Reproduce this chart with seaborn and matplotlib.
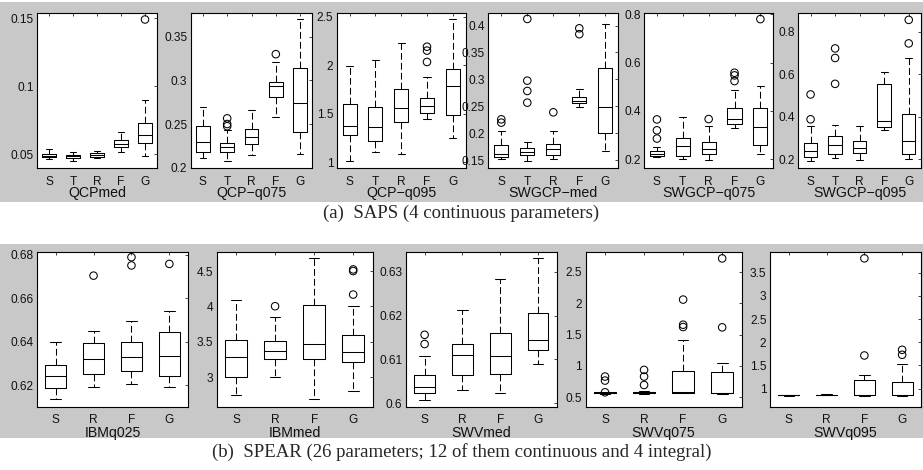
import numpy as np
import pandas as pd
import matplotlib
matplotlib.use('Agg')
import matplotlib.pyplot as plt
from matplotlib.patches import Rectangle
from matplotlib.ticker import FuncFormatter
import seaborn as sns

sns.set_style('white')
plt.rcParams['font.family'] = ['Liberation Sans', 'DejaVu Sans']

# ---------------- data ----------------
cats_a = ['S', 'T', 'R', 'F', 'G']
cats_b = ['S', 'R', 'F', 'G']

# each box: [lower whisker, q1, median, q3, upper whisker]
QCPmed_box = [[0.0465, 0.0476, 0.0487, 0.0503, 0.0534],
              [0.0450, 0.0470, 0.0485, 0.0493, 0.0515],
              [0.0468, 0.0480, 0.0493, 0.0505, 0.0524],
              [0.0517, 0.0554, 0.0573, 0.0602, 0.0659],
              [0.0485, 0.0585, 0.0644, 0.0729, 0.0900]]
QCPmed_out = [[], [], [], [], [0.149]]

QCPq075_box = [[0.2107, 0.2183, 0.2298, 0.2477, 0.2690],
               [0.2076, 0.2183, 0.2240, 0.2286, 0.2430],
               [0.2141, 0.2271, 0.2355, 0.2439, 0.2656],
               [0.2584, 0.2813, 0.2935, 0.2977, 0.3206],
               [0.2153, 0.2408, 0.2737, 0.3141, 0.3702]]
QCPq075_out = [[], [0.2565, 0.2500, 0.2475], [], [0.330], []]

QCPq095_box = [[1.014, 1.285, 1.374, 1.604, 1.992],
               [1.106, 1.216, 1.360, 1.566, 2.054],
               [1.089, 1.412, 1.556, 1.758, 2.225],
               [1.446, 1.504, 1.580, 1.666, 1.882],
               [1.250, 1.487, 1.782, 1.964, 2.476]]
QCPq095_out = [[], [], [], [2.19, 2.15, 2.033], []]

SWGCPmed_box = [[0.1512, 0.1562, 0.1612, 0.1785, 0.2040],
                [0.1488, 0.1593, 0.1655, 0.1717, 0.1841],
                [0.1519, 0.1593, 0.1705, 0.1798, 0.2046],
                [0.2492, 0.2555, 0.2598, 0.2679, 0.2815],
                [0.1674, 0.2009, 0.2480, 0.3218, 0.4031]]
SWGCPmed_out = [[0.2257, 0.2195], [0.4124, 0.2976, 0.2784, 0.2567], [0.2387],
                [0.395, 0.384], []]

SWGCPq075_box = [[0.2083, 0.2138, 0.2220, 0.2344, 0.2523],
                 [0.2000, 0.2138, 0.2564, 0.2867, 0.3734],
                 [0.1972, 0.2220, 0.2427, 0.2730, 0.3376],
                 [0.3308, 0.3459, 0.3652, 0.4106, 0.4863],
                 [0.2220, 0.2592, 0.3349, 0.4106, 0.5028]]
SWGCPq075_out = [[0.365, 0.320, 0.286], [], [0.3666], [0.558, 0.547, 0.5235], [0.7795]]

SWGCPq095_box = [[0.1938, 0.2125, 0.2390, 0.2780, 0.3560],
                 [0.2078, 0.2234, 0.2701, 0.3107, 0.3606],
                 [0.1984, 0.2312, 0.2514, 0.2889, 0.3560],
                 [0.3372, 0.3528, 0.3808, 0.5554, 0.6130],
                 [0.2000, 0.2249, 0.2857, 0.4151, 0.6770]]
SWGCPq095_out = [[0.5055, 0.3886], [0.722, 0.677, 0.5554], [], [], [0.8563, 0.7456]]

IBMq025_box = [[0.6135, 0.6186, 0.6243, 0.6290, 0.6398],
               [0.6191, 0.6253, 0.6318, 0.6392, 0.6449],
               [0.6206, 0.6263, 0.6330, 0.6398, 0.6494],
               [0.6189, 0.6240, 0.6333, 0.6444, 0.6540]]
IBMq025_out = [[], [0.6704], [0.6789, 0.6751], [0.6758]]

IBMmed_box = [[2.749, 3.009, 3.284, 3.520, 4.097],
              [3.000, 3.260, 3.364, 3.511, 3.851],
              [2.688, 3.255, 3.473, 4.026, 4.679],
              [2.806, 3.218, 3.360, 3.591, 4.003]]
IBMmed_out = [[], [4.003], [], [4.523, 4.500, 4.168]]

SWVmed_box = [[0.6008, 0.6023, 0.6038, 0.6065, 0.6108],
              [0.6029, 0.6065, 0.6111, 0.6135, 0.6212],
              [0.6023, 0.6066, 0.6108, 0.6160, 0.6284],
              [0.6090, 0.6122, 0.6144, 0.6206, 0.6331]]
SWVmed_out = [[0.6156, 0.6135], [], [], []]

SWVq075_box = [[0.560, 0.566, 0.575, 0.585, 0.590],
               [0.560, 0.568, 0.578, 0.588, 0.600],
               [0.564, 0.575, 0.578, 0.927, 1.417],
               [0.553, 0.564, 0.570, 0.911, 1.055]]
SWVq075_out = [[0.831, 0.767, 0.580], [0.937, 0.831, 0.697], [2.057, 1.657, 1.620],
               [2.713, 1.615]]

SWVq095_box = [[0.850, 0.852, 0.855, 0.858, 0.862],
               [0.862, 0.865, 0.868, 0.871, 0.874],
               [0.848, 0.855, 0.863, 1.188, 1.296],
               [0.848, 0.855, 0.860, 1.137, 1.530]]
SWVq095_out = [[], [], [3.811, 1.715], [1.838, 1.730]]

names_a = ['QCPmed', 'QCP\u2212q075', 'QCP\u2212q095', 'SWGCP\u2212med', 'SWGCP\u2212q075',
           'SWGCP\u2212q095']
names_b = ['IBMq025', 'IBMmed', 'SWVmed', 'SWVq075', 'SWVq095']

yticks_a = [[0.05, 0.1, 0.15], [0.2, 0.25, 0.3, 0.35], [1, 1.5, 2, 2.5],
            [0.15, 0.2, 0.25, 0.3, 0.35, 0.4], [0.2, 0.4, 0.6, 0.8], [0.2, 0.4, 0.6, 0.8]]
yticks_b = [[0.62, 0.64, 0.66, 0.68], [3, 3.5, 4, 4.5], [0.6, 0.61, 0.62, 0.63],
            [0.5, 1, 1.5, 2, 2.5], [1, 1.5, 2, 2.5, 3, 3.5]]

caption_a = '(a)  SAPS (4 continuous parameters)'
caption_b = '(b)  SPEAR (26 parameters; 12 of them continuous and 4 integral)'

# ---------------- layout ----------------
W, H = 923, 470
fig = plt.figure(figsize=(W / 100, H / 100), dpi=100)
GRAY = '#c8c8c8'

def band(y0, y1):
    fig.add_artist(Rectangle((0, 1 - y1 / H), 1, (y1 - y0) / H,
                             transform=fig.transFigure, facecolor=GRAY,
                             edgecolor='none', zorder=-10))

band(2, 202)
band(244, 438)

def px_axes(l, r, t, b):
    return fig.add_axes([l / W, 1 - b / H, (r - l) / W, (b - t) / H])

fmt = FuncFormatter(lambda v, p: f'{v:g}')

def draw_panel(ax, cats, box, out, name, ylim, yticks, label_y, xpad):
    df = pd.DataFrame({'cat': np.repeat(cats, 5), 'val': np.concatenate(box)})
    sns.boxplot(data=df, x='cat', y='val', order=cats, whis=(0, 100), width=0.55,
                fill=False, color='black', linewidth=0.75, showfliers=False,
                whiskerprops={'linestyle': (0, (6.5, 3))}, ax=ax)
    ocat = [c for c, vals in zip(cats, out) for _ in vals]
    oval = [v for vals in out for v in vals]
    n0 = len(ax.collections)
    sns.stripplot(x=ocat, y=oval, order=cats, jitter=False, size=5.4, color='black',
                  edgecolor='black', linewidth=0.75, ax=ax)
    for c in ax.collections[n0:]:
        c.set_facecolor('none')
        c.set_edgecolor('black')
    ax.set_xlim(-0.5, len(cats) - 0.5)
    ax.set_ylim(*ylim)
    ax.set_yticks(yticks)
    ax.yaxis.set_major_formatter(fmt)
    ax.set_ylabel('')
    ax.set_xlabel(name, fontsize=10.2, color='#111111')
    ax.xaxis.set_label_coords(0.5, label_y)
    ax.tick_params(axis='both', direction='in', length=2.5, width=0.6,
                   top=True, right=True, labelsize=8.6, labelcolor='#111111')
    ax.tick_params(axis='x', pad=xpad)
    ax.tick_params(axis='y', pad=2.5)
    for s in ax.spines.values():
        s.set_visible(True)
        s.set_linewidth(0.8)
        s.set_color('black')
    ax.set_facecolor('white')

pos_a = [(37, 157), (190.7, 312.3), (336.7, 465.7), (488.3, 618.3), (644, 773.3), (798.3, 921)]
ylims_a = [(0.040, 0.154), (0.2, 0.3775), (0.945, 2.54), (0.1357, 0.424),
           (0.1656, 0.806), (0.161, 0.89)]
boxes_a = [QCPmed_box, QCPq075_box, QCPq095_box, SWGCPmed_box, SWGCPq075_box, SWGCPq095_box]
outs_a = [QCPmed_out, QCPq075_out, QCPq095_out, SWGCPmed_out, SWGCPq075_out, SWGCPq095_out]

for (l, r), yl, bx, ou, nm, yt in zip(pos_a, ylims_a, boxes_a, outs_a, names_a, yticks_a):
    ax = px_axes(l, r, 12.7, 167.7)
    draw_panel(ax, cats_a, bx, ou, nm, yl, yt, -0.120, 6.0)

pos_b = [(36.7, 188.3), (216.5, 372.7), (405.7, 557), (585.5, 741.7), (770, 921)]
ylims_b = [(0.610, 0.6813), (2.584, 4.769), (0.5992, 0.6345), (0.351, 2.815), (0.61, 3.948)]
boxes_b = [IBMq025_box, IBMmed_box, SWVmed_box, SWVq075_box, SWVq095_box]
outs_b = [IBMq025_out, IBMmed_out, SWVmed_out, SWVq075_out, SWVq095_out]

for (l, r), yl, bx, ou, nm, yt in zip(pos_b, ylims_b, boxes_b, outs_b, names_b, yticks_b):
    ax = px_axes(l, r, 252, 406.7)
    draw_panel(ax, cats_b, bx, ou, nm, yl, yt, -0.125, 5.0)

fig.text(0.5, 1 - 213 / H, caption_a, ha='center', va='center',
         family=['Liberation Serif', 'DejaVu Serif'], fontsize=13.5)
fig.text(0.5, 1 - 452 / H, caption_b, ha='center', va='center',
         family=['Liberation Serif', 'DejaVu Serif'], fontsize=13.5)

fig.savefig('out.png', dpi=100, facecolor='white')
